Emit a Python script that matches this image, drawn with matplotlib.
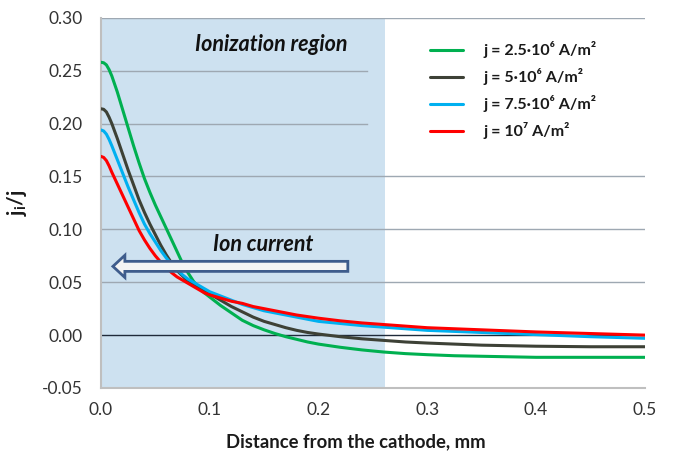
import matplotlib
matplotlib.use("Agg")
import matplotlib.pyplot as plt
from matplotlib.patches import FancyArrow

plt.rcParams['font.family'] = ['Lato', 'DejaVu Sans']
plt.rcParams['mathtext.fontset'] = 'custom'
plt.rcParams['mathtext.rm'] = 'Lato'
plt.rcParams['mathtext.it'] = 'Lato:italic'
plt.rcParams['mathtext.bf'] = 'Lato:bold'

# distance from the cathode, mm
dist = [0, 0.0025, 0.005, 0.0075, 0.01, 0.015, 0.02, 0.025, 0.03, 0.035, 0.04, 0.045,
        0.05, 0.055, 0.06, 0.065, 0.07, 0.075, 0.08, 0.085, 0.09, 0.095, 0.1,
        0.11, 0.12, 0.13, 0.14, 0.15, 0.16, 0.17, 0.18, 0.19, 0.2,
        0.22, 0.24, 0.26, 0.28, 0.3, 0.325, 0.35, 0.375, 0.4, 0.45, 0.5]

# ion current fraction ji/j for each discharge current density
ji_25 = [0.258, 0.2575, 0.2555, 0.251, 0.245, 0.230, 0.213, 0.196, 0.179, 0.163, 0.148, 0.135,
         0.123, 0.112, 0.101, 0.090, 0.079, 0.068, 0.059, 0.051, 0.045, 0.040, 0.036,
         0.028, 0.021, 0.014, 0.009, 0.005, 0.0015, -0.0015, -0.004, -0.0065, -0.0085,
         -0.0115, -0.014, -0.016, -0.0175, -0.0185, -0.0195, -0.020, -0.0205, -0.021, -0.021, -0.021]
ji_50 = [0.214, 0.2135, 0.211, 0.206, 0.200, 0.186, 0.171, 0.156, 0.142, 0.128, 0.116, 0.105,
         0.095, 0.085, 0.076, 0.068, 0.061, 0.056, 0.051, 0.048, 0.045, 0.042, 0.039,
         0.033, 0.027, 0.022, 0.017, 0.013, 0.010, 0.007, 0.0045, 0.0025, 0.001,
         -0.0015, -0.0035, -0.005, -0.0065, -0.0075, -0.0085, -0.0095, -0.010, -0.0105, -0.011, -0.011]
ji_75 = [0.194, 0.193, 0.190, 0.185, 0.179, 0.166, 0.153, 0.140, 0.128, 0.116, 0.105, 0.096,
         0.088, 0.080, 0.073, 0.067, 0.062, 0.057, 0.053, 0.050, 0.047, 0.044, 0.041,
         0.037, 0.033, 0.029, 0.026, 0.023, 0.021, 0.019, 0.017, 0.015, 0.013,
         0.011, 0.009, 0.0075, 0.006, 0.0045, 0.0035, 0.0025, 0.0015, 0.0005, -0.0015, -0.003]
ji_100 = [0.169, 0.168, 0.165, 0.160, 0.154, 0.143, 0.132, 0.121, 0.110, 0.099, 0.090, 0.082,
          0.075, 0.069, 0.064, 0.059, 0.055, 0.052, 0.049, 0.046, 0.043, 0.040, 0.038,
          0.035, 0.032, 0.030, 0.027, 0.025, 0.023, 0.021, 0.019, 0.0175, 0.016,
          0.0135, 0.0115, 0.010, 0.0085, 0.007, 0.006, 0.005, 0.004, 0.003, 0.0015, 0.000]

series = [ji_25, ji_50, ji_75, ji_100]
labels = ['j = 2.5·10⁶ A/m²', 'j = 5·10⁶ A/m²', 'j = 7.5·10⁶ A/m²', 'j = 10⁷ A/m²']
colors = ['#00b050', '#3d4136', '#00b0f0', '#ff0000']

region_end = 0.261
y_ticks = [-0.05, 0.0, 0.05, 0.10, 0.15, 0.20, 0.25, 0.30]
x_ticks = [0.0, 0.1, 0.2, 0.3, 0.4, 0.5]

fig = plt.figure(figsize=(6.73, 4.57), dpi=100)
ax = fig.add_axes([0.150, 0.151, 0.808, 0.810])

ax.axvspan(0, region_end, color='#cde1f0', zorder=0, lw=0)

# gridlines; the two upper ones stop before the legend
for yv in [0.05, 0.10, 0.15, 0.30]:
    ax.axhline(yv, color='#9ea8b2', lw=1, zorder=1)
for yv in [0.20, 0.25]:
    ax.plot([0, 0.2445], [yv, yv], color='#9ea8b2', lw=1, zorder=1)
ax.axhline(0, color='#1f2a3a', lw=1, zorder=2)

for vals, lab, c in zip(series, labels, colors):
    ax.plot(dist, vals, color=c, lw=2.2, label=lab, zorder=3,
            solid_joinstyle='round', solid_capstyle='round')

arrow = FancyArrow(0.227, 0.065, -0.216, 0, width=0.0095, head_width=0.021,
                   head_length=0.011, length_includes_head=True,
                   facecolor='#f4f4f4', edgecolor='#3e5c8c', lw=2, zorder=4)
ax.add_patch(arrow)

ax.text(0.157, 0.2745, 'Ionization region', fontsize=15.5, fontweight='bold',
        fontstyle='italic', ha='center', va='center', color='#111111', zorder=5)
ax.text(0.149, 0.086, 'Ion current', fontsize=15.5, fontweight='bold',
        fontstyle='italic', ha='center', va='center', color='#111111', zorder=5)

leg = ax.legend(loc='upper left', bbox_to_anchor=(0.578, 0.975), frameon=False,
                handlelength=2.1, handletextpad=1.25, labelspacing=0.62,
                prop={'weight': 'bold', 'size': 11.5})
for t in leg.get_texts():
    t.set_color('#1a1a1a')

ax.set_xlim(0, 0.5)
ax.set_ylim(-0.05, 0.30)
ax.set_xticks(x_ticks)
ax.set_xticklabels(['%.1f' % v for v in x_ticks])
ax.set_yticks(y_ticks)
ax.set_yticklabels(['%.2f' % v for v in y_ticks])
ax.tick_params(length=0, labelsize=12.5, colors='#333333')
ax.tick_params(axis='y', pad=13)
ax.tick_params(axis='x', pad=10)

for s in ['top', 'right']:
    ax.spines[s].set_visible(False)
for s in ['left', 'bottom']:
    ax.spines[s].set_color('#bfbfbf')
    ax.spines[s].set_linewidth(1.5)

ax.set_xlabel('Distance from the cathode, mm', fontsize=13.3, fontweight='bold',
              color='#1a1a1a')
ax.xaxis.set_label_coords(0.469, -0.122)
ax.set_ylabel(r'$\mathbf{j_i/j}$', fontsize=15, color='#1a1a1a')
ax.yaxis.set_label_coords(-0.132, 0.5)

fig.savefig('out.png', dpi=100)
